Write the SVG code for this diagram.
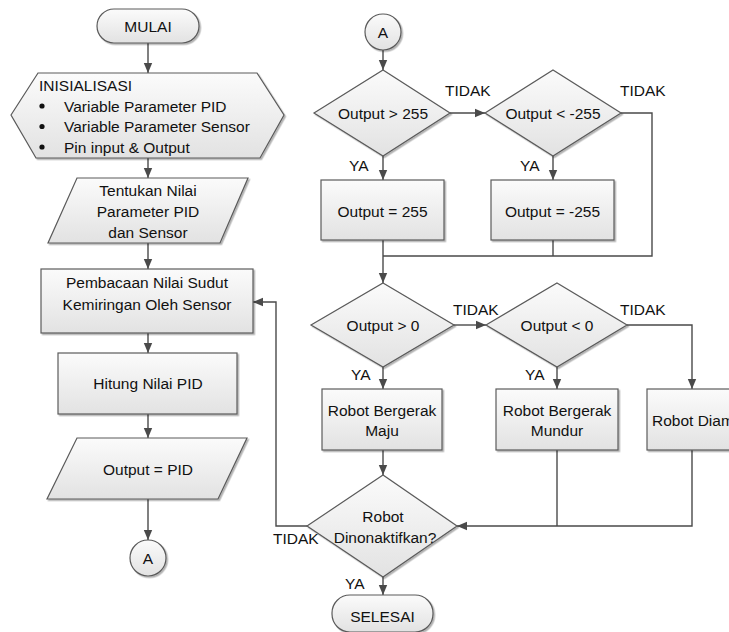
<svg xmlns="http://www.w3.org/2000/svg" width="729" height="632" viewBox="0 0 729 632">
  <style>
    .shape { fill: url(#fillGrad); stroke: #5a5a5a; stroke-width: 1.2; filter: url(#shadow); }
    .conn { fill: none; stroke: #4a4a4a; stroke-width: 1.4; }
    .arrow { marker-end: url(#arrowHead); }
    text { font-family: "Liberation Sans", Arial, sans-serif; font-size: 15.5px; fill: #111; }
    .c { text-anchor: middle; }
  </style>
  <defs>
    <linearGradient id="fillGrad" x1="0" y1="0" x2="0" y2="1">
      <stop offset="0" stop-color="#fbfbfb"/>
      <stop offset="1" stop-color="#e2e2e2"/>
    </linearGradient>
    <filter id="shadow" x="-10%" y="-10%" width="130%" height="130%">
      <feDropShadow dx="1.5" dy="1.5" stdDeviation="0.7" flood-color="#000" flood-opacity="0.3"/>
    </filter>
    <marker id="arrowHead" markerUnits="userSpaceOnUse" markerWidth="10" markerHeight="10" viewBox="0 0 10 10" refX="10" refY="5" orient="auto">
      <path d="M0,0.8 L10,5 L0,9.2 Z" fill="#4a4a4a"/>
    </marker>
  </defs>

  <!-- connectors -->
  <g id="connectors">
    <path class="conn arrow" d="M148,43 V73"/>
    <path class="conn arrow" d="M148,158 V178"/>
    <path class="conn arrow" d="M148,243 V269"/>
    <path class="conn arrow" d="M148,333 V353"/>
    <path class="conn arrow" d="M148,414 V438"/>
    <path class="conn arrow" d="M148,499 V540"/>

    <path class="conn arrow" d="M383,50 V70"/>
    <path class="conn arrow" d="M450,113 H485"/>
    <path class="conn" d="M621,113 H652 V256 H383"/>
    <path class="conn arrow" d="M383,156 V180"/>
    <path class="conn arrow" d="M553,156 V180"/>
    <path class="conn" d="M383,240 V256"/>
    <path class="conn" d="M553,240 V256"/>
    <path class="conn arrow" d="M383,256 V283"/>

    <path class="conn arrow" d="M454,325 H486"/>
    <path class="conn arrow" d="M627,325 H692 V389"/>
    <path class="conn arrow" d="M383,367 V389"/>
    <path class="conn arrow" d="M557,367 V389"/>
    <path class="conn arrow" d="M383,450 V475"/>
    <path class="conn" d="M557,450 V526"/>
    <path class="conn arrow" d="M692,450 V526 H457"/>
    <path class="conn arrow" d="M307,526 H276 V302 H253"/>
    <path class="conn arrow" d="M383,577 V595"/>

    <text x="445" y="95.5">TIDAK</text>
    <text x="620" y="95.5">TIDAK</text>
    <text x="349" y="170.5">YA</text>
    <text x="520" y="170.5">YA</text>
    <text x="453" y="314.5">TIDAK</text>
    <text x="620" y="314.5">TIDAK</text>
    <text x="351" y="379.5">YA</text>
    <text x="525" y="379.5">YA</text>
    <text x="273" y="543.5">TIDAK</text>
    <text x="345" y="588.5">YA</text>
  </g>

  <!-- left column -->
  <g id="mulai">
    <rect class="shape" x="97" y="9" width="102" height="34" rx="17"/>
    <text class="c" x="148" y="31.5">MULAI</text>
  </g>
  <g id="inisialisasi">
    <polygon class="shape" points="11,115 38,73 257,73 284,115 260,158 36,158"/>
    <text x="39" y="90.5">INISIALISASI</text>
    <circle cx="42" cy="106" r="2.6" fill="#111"/>
    <circle cx="42" cy="126.5" r="2.6" fill="#111"/>
    <circle cx="42" cy="147" r="2.6" fill="#111"/>
    <text x="64" y="111.5">Variable Parameter PID</text>
    <text x="64" y="132">Variable Parameter Sensor</text>
    <text x="64" y="152.5">Pin input &amp; Output</text>
  </g>
  <g id="tentukan">
    <polygon class="shape" points="77,178 248,178 220,243 48,243"/>
    <text class="c" x="148" y="196">Tentukan Nilai</text>
    <text class="c" x="148" y="217">Parameter PID</text>
    <text class="c" x="148" y="238">dan Sensor</text>
  </g>
  <g id="pembacaan">
    <rect class="shape" x="41" y="269" width="212" height="64"/>
    <text class="c" x="147" y="288">Pembacaan Nilai Sudut</text>
    <text class="c" x="147" y="309.5">Kemiringan Oleh Sensor</text>
  </g>
  <g id="hitung">
    <rect class="shape" x="58" y="353" width="179" height="61"/>
    <text class="c" x="148" y="389">Hitung Nilai PID</text>
  </g>
  <g id="output-pid">
    <polygon class="shape" points="77,438 247,438 218,499 47,499"/>
    <text class="c" x="148" y="474.5">Output = PID</text>
  </g>
  <g id="konektor-a1">
    <circle class="shape" cx="148" cy="558" r="18"/>
    <text class="c" x="148" y="563.5">A</text>
  </g>

  <!-- right column -->
  <g id="konektor-a2">
    <circle class="shape" cx="383" cy="32" r="18"/>
    <text class="c" x="383" y="37.5">A</text>
  </g>
  <g id="cek-255">
    <polygon class="shape" points="383,70 450,113 383,156 314,113"/>
    <text class="c" x="383" y="118.5">Output &gt; 255</text>
  </g>
  <g id="cek-min255">
    <polygon class="shape" points="553,70 621,113 553,156 485,113"/>
    <text class="c" x="553" y="118.5">Output &lt; -255</text>
  </g>
  <g id="set-255">
    <rect class="shape" x="321" y="180" width="123" height="60"/>
    <text class="c" x="382.5" y="216.5">Output = 255</text>
  </g>
  <g id="set-min255">
    <rect class="shape" x="491" y="180" width="123" height="60"/>
    <text class="c" x="552.5" y="216.5">Output = -255</text>
  </g>
  <g id="cek-0">
    <polygon class="shape" points="383,283 454,325 383,367 311,325"/>
    <text class="c" x="383" y="330.5">Output &gt; 0</text>
  </g>
  <g id="cek-min0">
    <polygon class="shape" points="557,283 627,325 557,367 486,325"/>
    <text class="c" x="557" y="330.5">Output &lt; 0</text>
  </g>
  <g id="maju">
    <rect class="shape" x="322" y="389" width="120" height="61"/>
    <text class="c" x="382" y="415.5">Robot Bergerak</text>
    <text class="c" x="382" y="435.5">Maju</text>
  </g>
  <g id="mundur">
    <rect class="shape" x="496" y="389" width="122" height="61"/>
    <text class="c" x="557" y="415.5">Robot Bergerak</text>
    <text class="c" x="557" y="435.5">Mundur</text>
  </g>
  <g id="diam">
    <rect class="shape" x="647" y="389" width="100" height="61"/>
    <text x="652" y="425.5">Robot Diam</text>
  </g>
  <g id="dinonaktifkan">
    <polygon class="shape" points="383,475 457,526 383,577 307,526"/>
    <text class="c" x="383" y="521.5">Robot</text>
    <text class="c" x="385" y="542.5">Dinonaktifkan?</text>
  </g>
  <g id="selesai">
    <rect class="shape" x="332" y="595" width="101" height="37" rx="18"/>
    <text class="c" x="382.5" y="621.5">SELESAI</text>
  </g>
</svg>
